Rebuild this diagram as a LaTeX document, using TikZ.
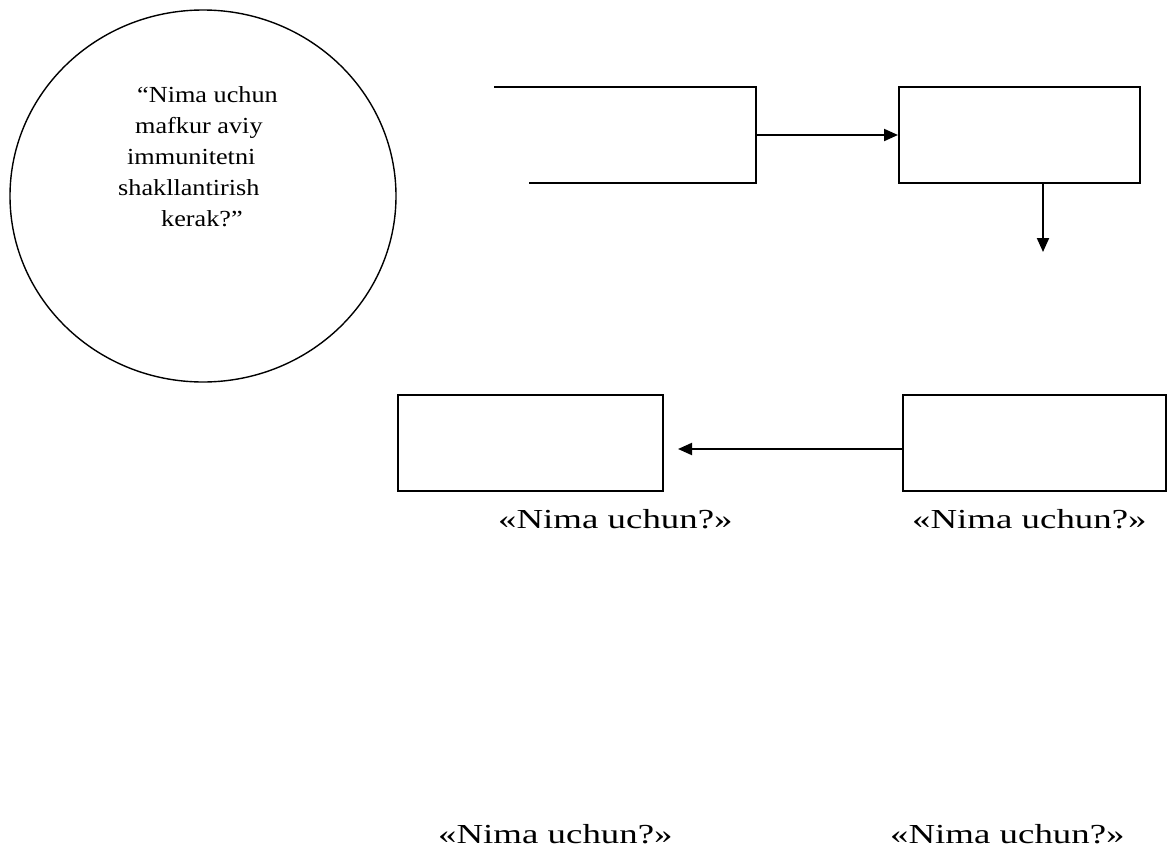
\documentclass[tikz,border=0pt]{standalone}
\usepackage{fontspec}
\setmainfont{Liberation Serif}
\newfontfamily\circfont[FakeStretch=1.14]{Liberation Serif}
\newfontfamily\labfont[FakeStretch=1.34]{Liberation Serif}
\usetikzlibrary{arrows.meta,shapes.geometric}
\begin{document}
\begin{tikzpicture}[x=1pt,y=-1pt,
    box/.style={draw,line width=2pt,minimum height=96pt,inner sep=0pt},
    arr/.style={line width=2pt,-{Triangle[length=14pt,width=12pt]}},
    lab/.style={anchor=base west,inner sep=0pt,font=\labfont\fontsize{27.5}{33}\selectfont}]
                \useasboundingbox (0,0) rectangle (1167,854);
                \node[draw,ellipse,line width=1.4pt,minimum width=386pt,minimum height=372pt,inner sep=0pt](q) at (203,196){};
                \node[anchor=base west,align=left,inner sep=0pt,font=\circfont\fontsize{23}{31}\selectfont](qt) at (118,226){\hspace*{19pt}“Nima uchun\\ \hspace*{17pt}mafkur aviy\\ \hspace*{9pt}immunitetni\\ shakllantirish\\ \hspace*{43pt}kerak?”};
                % open box
                \draw[line width=2pt](494,87) -- (756,87) -- (756,183) -- (529,183);
                \coordinate(e) at (756,135);
                \node[box,minimum width=241pt](b2) at (1019.5,135){};
                \node[box,minimum width=263pt](b3) at (1034.5,443){};
                \node[box,minimum width=265pt](b4) at (530.5,443){};
                \coordinate(d) at (1043,252);
                \draw[arr](e) -- (b2.west);
                \draw[arr](b2.south -| d) -- (d);
                \draw[arr]([yshift=-6pt]b3.west) -- ([xshift=14pt,yshift=-6pt]b4.east);
                \node[lab](l1) at (498,528){«Nima uchun?»};
                \node[lab](l2) at (912,528){«Nima uchun?»};
                \node[lab](l3) at (438,843){«Nima uchun?»};
                \node[lab](l4) at (890,843){«Nima uchun?»};
            \end{tikzpicture}
\end{document}
